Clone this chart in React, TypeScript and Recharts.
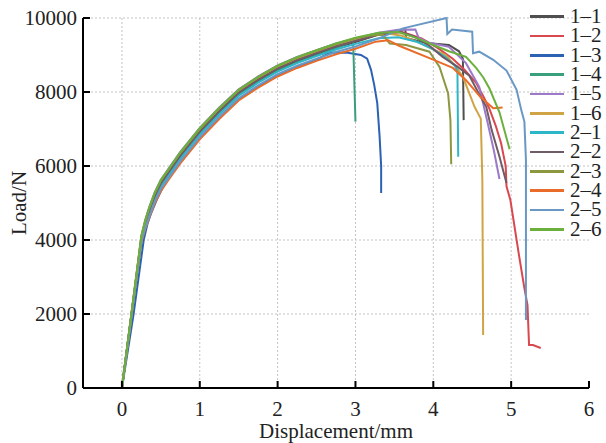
import React from 'react';
import { LineChart, Line, XAxis, YAxis, CartesianGrid, Label } from 'recharts';

const X_TICKS = [0, 1, 2, 3, 4, 5, 6];
const Y_TICKS = [0, 2000, 4000, 6000, 8000, 10000];
const X_GRID = [0, 1, 2, 3, 4, 5];
const Y_GRID = [2000, 4000, 6000, 8000, 10000];

const NAMES = ['1–1', '1–2', '1–3', '1–4', '1–5', '1–6', '2–1', '2–2', '2–3', '2–4', '2–5', '2–6'];
const COLORS = ['#4f4f4f', '#d9474f', '#2c62b3', '#3a9f7c', '#9c79c9', '#d0a444', '#2db6c8', '#6f5a66', '#8d9740', '#e96c2a', '#6a98c4', '#6bb03d'];

type P = [number, number];

const s11: P[] = [[0,0],[0.25,4000],[0.3,4420],[0.35,4750],[0.42,5150],[0.5,5500],[0.6,5800],[0.75,6250],[1,6900],[1.25,7450],[1.5,7950],[1.75,8300],[2,8600],[2.25,8830],[2.5,9020],[2.75,9200],[3,9350],[3.3,9550],[3.64,9700],[3.65,9460],[3.8,9380],[3.95,9320],[4.2,9270],[4.33,9100],[4.38,8900],[4.39,7240]];
const s12: P[] = [[0,0],[0.25,4050],[0.3,4470],[0.35,4800],[0.42,5200],[0.5,5550],[0.6,5850],[0.75,6300],[1,6950],[1.25,7500],[1.5,8000],[1.75,8350],[2,8650],[2.25,8880],[2.5,9070],[2.75,9250],[3,9400],[3.3,9550],[3.6,9620],[3.85,9450],[4.05,9200],[4.25,8900],[4.4,8600],[4.55,8250],[4.65,7850],[4.72,7550],[4.8,7100],[4.87,6620],[4.93,6000],[4.94,5450],[4.99,5080],[5.1,3600],[5.17,2700],[5.21,2240],[5.23,1160],[5.28,1160],[5.38,1080]];
const s13: P[] = [[0,0],[0.15,2000],[0.28,4000],[0.33,4450],[0.38,4750],[0.45,5100],[0.52,5400],[0.6,5680],[0.75,6100],[1,6750],[1.25,7300],[1.5,7800],[1.75,8150],[2,8450],[2.25,8680],[2.5,8870],[2.67,9070],[2.9,9060],[3.07,9000],[3.15,8900],[3.2,8600],[3.24,8200],[3.28,7700],[3.31,6800],[3.33,6000],[3.33,5270]];
const s14: P[] = [[0,0],[0.25,3980],[0.3,4400],[0.35,4720],[0.42,5120],[0.5,5470],[0.6,5770],[0.75,6220],[1,6870],[1.25,7420],[1.5,7920],[1.75,8270],[2,8570],[2.25,8800],[2.5,8990],[2.75,9180],[2.97,9380],[3,7200]];
const s15: P[] = [[0,0],[0.25,4120],[0.3,4550],[0.35,4880],[0.42,5280],[0.5,5630],[0.6,5930],[0.75,6380],[1,7030],[1.25,7580],[1.5,8070],[1.75,8420],[2,8720],[2.25,8950],[2.5,9130],[2.75,9310],[3,9450],[3.3,9600],[3.55,9680],[3.77,9690],[3.81,9470],[3.95,9330],[4.2,9220],[4.42,8780],[4.59,8140],[4.7,7150],[4.78,6400],[4.85,5650]];
const s16: P[] = [[0,0],[0.25,4080],[0.3,4500],[0.35,4830],[0.42,5230],[0.5,5580],[0.6,5880],[0.75,6330],[1,6980],[1.25,7530],[1.5,8030],[1.75,8380],[2,8680],[2.25,8910],[2.5,9100],[2.75,9280],[3,9430],[3.35,9600],[3.6,9520],[3.85,9300],[4,9150],[4.16,9000],[4.29,8680],[4.38,8410],[4.53,7600],[4.61,7280],[4.63,5600],[4.64,1430]];
const s21: P[] = [[0,0],[0.25,3950],[0.3,4370],[0.35,4700],[0.42,5100],[0.5,5450],[0.6,5750],[0.75,6200],[1,6850],[1.25,7400],[1.5,7900],[1.75,8250],[2,8550],[2.25,8780],[2.5,8970],[2.75,9150],[3,9300],[3.3,9450],[3.55,9480],[3.8,9350],[4,9150],[4.15,8950],[4.28,8700],[4.31,8550],[4.32,6250]];
const s22: P[] = [[0,0],[0.25,4030],[0.3,4450],[0.35,4780],[0.42,5180],[0.5,5530],[0.6,5830],[0.75,6280],[1,6930],[1.25,7480],[1.5,7980],[1.75,8330],[2,8630],[2.25,8860],[2.5,9050],[2.75,9230],[3,9380],[3.3,9560],[3.55,9640],[3.75,9500],[3.95,9250],[4.12,8950],[4.3,8700],[4.46,8450],[4.6,7900],[4.68,7600],[4.75,6970],[4.85,6250],[4.94,5540]];
const s23: P[] = [[0,0],[0.25,4100],[0.3,4520],[0.35,4850],[0.42,5250],[0.5,5600],[0.6,5900],[0.75,6350],[1,7000],[1.25,7550],[1.5,8050],[1.75,8400],[2,8700],[2.25,8930],[2.5,9120],[2.75,9290],[3,9450],[3.2,9530],[3.35,9550],[3.44,9310],[3.65,9270],[3.95,9090],[4.08,8680],[4.19,7960],[4.22,7240],[4.23,6050]];
const s24: P[] = [[0,0],[0.25,3950],[0.3,4300],[0.35,4600],[0.42,4980],[0.5,5320],[0.6,5630],[0.75,6070],[1,6720],[1.25,7270],[1.5,7770],[1.75,8120],[2,8420],[2.25,8650],[2.5,8840],[2.75,9020],[3,9170],[3.26,9360],[3.42,9400],[3.56,9250],[3.99,8880],[4.25,8650],[4.42,8320],[4.6,7880],[4.77,7560],[4.89,7580]];
const s25: P[] = [[0,0],[0.25,3980],[0.3,4330],[0.35,4630],[0.42,5030],[0.5,5380],[0.6,5680],[0.75,6130],[1,6780],[1.25,7330],[1.5,7830],[1.75,8180],[2,8480],[2.25,8710],[2.5,8900],[2.75,9080],[3,9230],[3.3,9450],[3.61,9720],[4.17,10000],[4.18,9570],[4.24,9690],[4.5,9630],[4.51,9050],[4.59,9090],[4.77,8870],[4.94,8580],[5.07,8060],[5.13,7510],[5.17,7200],[5.19,6160],[5.19,1840]];
const s26: P[] = [[0,0],[0.25,4100],[0.3,4530],[0.35,4870],[0.42,5270],[0.5,5620],[0.6,5920],[0.75,6370],[1,7020],[1.25,7570],[1.5,8060],[1.75,8410],[2,8710],[2.25,8940],[2.5,9130],[2.75,9310],[3,9470],[3.3,9600],[3.55,9620],[3.8,9450],[4,9270],[4.2,9100],[4.42,8950],[4.55,8650],[4.64,8400],[4.72,8100],[4.85,7450],[4.98,6450]];

const SERIES: P[][] = [s11, s12, s13, s14, s15, s16, s21, s22, s23, s24, s25, s26];

const FONT = '"Liberation Serif", "Times New Roman", serif';
const Y_MARGIN = 6;
const X_MARGIN = 13;

function YTick(props: any) {
  const { x, y, payload } = props;
  const ax = x + Y_MARGIN;
  return (
    <g>
      <line x1={ax} x2={ax + 7} y1={y} y2={y} stroke="#000" strokeWidth={2} />
      <text x={x} y={y} dy="0.35em" textAnchor="end" fontFamily={FONT} fontSize={21} fill="#222">{payload.value}</text>
    </g>
  );
}

function XTick(props: any) {
  const { x, y, payload } = props;
  const ay = y - X_MARGIN;
  return (
    <g>
      <line x1={x} x2={x} y1={ay} y2={ay - 7} stroke="#000" strokeWidth={2} />
      <text x={x} y={y} dy="0.71em" textAnchor="middle" fontFamily={FONT} fontSize={21} fill="#222">{payload.value}</text>
    </g>
  );
}

function LegendBox() {
  return (
    <div style={{ position: 'absolute', left: 530, top: 7, width: 76, fontFamily: FONT, fontSize: 21, color: '#222', whiteSpace: 'nowrap' }}>
      {NAMES.map((n, i) => (
        <div key={n} style={{ display: 'flex', alignItems: 'center', height: 19.33, lineHeight: '19.33px' }}>
          <span style={{ display: 'inline-block', width: 34, height: 2.5, background: COLORS[i], marginRight: 6, flex: 'none' }} />
          <span>{n}</span>
        </div>
      ))}
    </div>
  );
}

export default function App() {
  return (
    <div style={{ position: 'absolute', left: 0, top: 0, width: 606, height: 443, background: '#fff' }}>
      <LineChart width={606} height={443} margin={{ top: 18, right: 17, left: 0, bottom: 0 }}>
        <CartesianGrid stroke="#c4c4c4" strokeDasharray="2 2" verticalValues={X_GRID} horizontalValues={Y_GRID} />
        <XAxis
          dataKey="x"
          type="number"
          domain={[-0.5, 6]}
          ticks={X_TICKS}
          allowDataOverflow
          height={55}
          tickSize={0}
          tickMargin={X_MARGIN}
          tick={<XTick />}
          axisLine={{ stroke: '#000', strokeWidth: 2 }}
        >
          <Label
            content={(p: any) => {
              const vb = p.viewBox;
              return (
                <text x={vb.x + vb.width / 2} y={vb.y + vb.height - 5} textAnchor="middle" fontFamily={FONT} fontSize={21} fill="#222">Displacement/mm</text>
              );
            }}
          />
        </XAxis>
        <YAxis
          type="number"
          domain={[0, 10000]}
          ticks={Y_TICKS}
          width={83}
          tickSize={0}
          tickMargin={Y_MARGIN}
          tick={<YTick />}
          axisLine={{ stroke: '#000', strokeWidth: 2 }}
        >
          <Label
            content={(p: any) => {
              const vb = p.viewBox;
              const cx = vb.x + 26;
              const cy = vb.y + vb.height / 2;
              return (
                <text x={cx} y={cy} textAnchor="middle" transform={`rotate(-90, ${cx}, ${cy})`} fontFamily={FONT} fontSize={21} fill="#222">Load/N</text>
              );
            }}
          />
        </YAxis>
        {SERIES.map((s, i) => (
          <Line
            key={NAMES[i]}
            name={NAMES[i]}
            data={s.map(([x, y]) => ({ x, y }))}
            dataKey="y"
            type="linear"
            stroke={COLORS[i]}
            strokeWidth={2}
            dot={false}
            activeDot={false}
            isAnimationActive={false}
          />
        ))}
      </LineChart>
      <LegendBox />
    </div>
  );
}
